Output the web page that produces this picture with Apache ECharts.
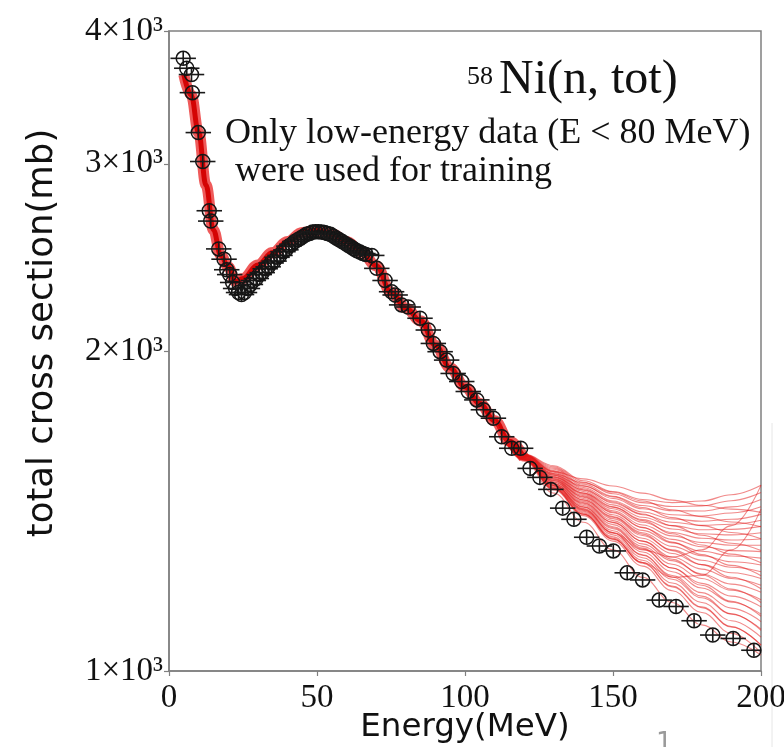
<!DOCTYPE html>
<html>
<head>
<meta charset="utf-8">
<script src="https://cdn.jsdelivr.net/npm/echarts@6/dist/echarts.min.js"></script>
<style>
html,body{margin:0;padding:0;background:#fff;}
#main{width:784px;height:747px;}
</style>
</head>
<body>
<div id="main"></div>
<script>
// ---- data ----
const xTicks = [0, 50, 100, 150, 200];
const yTicks = [1000, 2000, 3000, 4000];

const dataEnergy = [4.8, 6.0, 7.6, 7.9, 9.9, 11.4, 13.6, 14.1, 16.8, 18.6, 19.5,
  20.5, 21.5, 22.5, 23.5, 24.5, 25.5, 26.5, 27.5, 28.5, 29.5,
  30.5, 31.5, 32.5, 33.5, 34.5, 35.5, 36.5, 37.5, 38.5, 39.5,
  40.5, 41.5, 42.5, 43.5, 44.5, 45.5, 46.5, 47.5, 48.5, 49.5,
  50.5, 51.5, 52.5, 53.5, 54.5, 55.5, 56.5, 57.5, 58.5, 59.5,
  60.5, 61.5, 62.5, 63.5, 64.5, 65.5, 66.5, 68.5, 70.2, 73.0,
  75.2, 76.4, 78.6, 80.8, 84.8, 87.6, 89.3, 91.6, 93.8, 96.0,
  98.9, 101.1, 104.0, 106.2, 109.6, 112.4, 115.8, 118.8, 122.0, 125.3,
  129.0, 133.0, 136.8, 141.1, 145.4, 150.1, 154.8, 160.0, 165.6, 171.3,
  177.4, 183.7, 190.6, 197.6];
const dataSigma = [3770, 3690, 3640, 3500, 3210, 3015, 2710, 2650, 2495, 2440, 2385,
  2360, 2320, 2290, 2270, 2260, 2270, 2290, 2310, 2330, 2340,
  2360, 2370, 2390, 2400, 2420, 2430, 2450, 2460, 2480, 2490,
  2510, 2520, 2535, 2545, 2555, 2565, 2575, 2580, 2588, 2590,
  2590, 2588, 2585, 2580, 2575, 2565, 2555, 2545, 2535, 2525,
  2515, 2505, 2495, 2485, 2478, 2470, 2465, 2460, 2392, 2330,
  2274, 2258, 2210, 2200, 2147, 2093, 2033, 1997, 1961, 1905,
  1872, 1832, 1799, 1761, 1729, 1661, 1620, 1620, 1551, 1521,
  1482, 1423, 1389, 1336, 1311, 1297, 1237, 1218, 1166, 1150,
  1115, 1081, 1073, 1046];
const xErr = 4.3;      // MeV
const yErrFrac = 0.014;

// central prediction band (E < 120 MeV)
const bandEnergy = [5, 7.5, 10, 12.5, 15, 17.5, 20, 22.5, 25, 30, 35, 40, 45, 50, 55, 60, 65, 70, 75, 80, 85, 90, 95, 100, 105, 110, 115, 120];
const bandSigma  = [3640, 3480, 3210, 2865, 2600, 2460, 2400, 2325, 2340, 2410, 2475, 2535, 2585, 2598, 2578, 2535, 2480, 2405, 2272, 2195, 2135, 2025, 1928, 1850, 1785, 1720, 1645, 1585];

// individual model predictions fanning out at high energy
const fanEnergy = [110, 120, 130, 140, 150, 160, 170, 180, 190, 200];
const fanCurves = [
  [1720,1578,1480,1400,1325,1255,1190,1135,1085,1040],
  [1720,1579,1483,1404,1331,1263,1200,1147,1100,1058],
  [1720,1580,1486,1409,1337,1271,1210,1160,1115,1076],
  [1720,1581,1490,1413,1343,1278,1220,1172,1131,1095],
  [1720,1582,1493,1418,1349,1286,1230,1185,1146,1113],
  [1720,1583,1496,1422,1355,1294,1240,1197,1161,1131],
  [1720,1584,1499,1426,1361,1302,1250,1209,1176,1149],
  [1720,1585,1502,1431,1367,1310,1260,1222,1191,1167],
  [1720,1586,1506,1435,1373,1317,1270,1234,1207,1186],
  [1720,1587,1509,1440,1379,1325,1280,1247,1222,1204],
  [1720,1588,1512,1444,1385,1333,1290,1259,1237,1222],
  [1720,1589,1515,1448,1391,1341,1300,1271,1252,1240],
  [1720,1590,1518,1453,1397,1349,1310,1284,1267,1258],
  [1720,1591,1522,1457,1403,1356,1320,1296,1283,1277],
  [1720,1592,1525,1462,1409,1364,1330,1309,1298,1295],
  [1720,1593,1528,1466,1415,1372,1340,1321,1313,1313],
  [1720,1594,1531,1470,1421,1380,1350,1333,1328,1331],
  [1720,1595,1534,1475,1427,1388,1360,1346,1343,1349],
  [1720,1596,1538,1479,1433,1395,1370,1358,1359,1368],
  [1720,1596,1541,1484,1439,1403,1380,1371,1374,1386],
  [1720,1597,1544,1488,1445,1411,1390,1383,1389,1404],
  [1720,1597,1548,1494,1453,1421,1403,1399,1408,1427],
  [1720,1598,1552,1499,1460,1431,1415,1414,1427,1450],
  [1720,1599,1556,1505,1468,1440,1428,1430,1446,1472],
  [1720,1600,1560,1510,1475,1450,1440,1445,1465,1495],
  [1720,1579,1483,1405,1333,1265,1202,1149,1101,1057],
  [1720,1581,1488,1416,1348,1285,1226,1176,1132,1092],
  [1720,1583,1494,1427,1364,1305,1250,1204,1163,1126],
  [1720,1585,1500,1438,1380,1325,1274,1232,1194,1160],
  [1720,1587,1505,1449,1395,1345,1298,1259,1225,1195],
  [1720,1589,1511,1459,1411,1365,1322,1287,1257,1229],
  [1720,1591,1516,1470,1426,1385,1346,1314,1288,1264],
  [1720,1593,1522,1481,1442,1405,1370,1342,1319,1298],
  [1720,1595,1528,1492,1458,1425,1394,1370,1350,1332],
  [1720,1597,1533,1503,1473,1445,1418,1397,1381,1367],
  [1720,1599,1540,1516,1493,1470,1448,1432,1420,1410],
  [1720,1585,1495,1420,1350,1300,1280,1300,1370,1495],
  [1720,1583,1485,1405,1330,1265,1225,1230,1300,1420],
  [1720,1575,1470,1380,1300,1225,1160,1105,1065,1035]
];

// ---- chart ----
const chart = echarts.init(document.getElementById('main'), null, {renderer: 'canvas'});

const series = [];
const bandData = bandEnergy.map((e, i) => [e, bandSigma[i]]);
series.push({
  type: 'line', data: bandData, showSymbol: false, smooth: 0.4, smoothMonotone: 'x',
  lineStyle: {width: 11, color: 'rgba(232,20,20,0.7)'}, silent: true, z: 1
});
series.push({
  type: 'line', data: bandData, showSymbol: false, smooth: 0.4, smoothMonotone: 'x',
  lineStyle: {width: 5, color: 'rgba(210,0,0,0.95)'}, silent: true, z: 2
});
fanCurves.forEach(c => {
  series.push({
    type: 'line', data: fanEnergy.map((e, i) => [e, c[i]]), showSymbol: false,
    smooth: 0.4, smoothMonotone: 'x',
    lineStyle: {width: 1.1, color: 'rgba(228,22,22,0.5)'}, silent: true, z: 3
  });
});
series.push({
  type: 'custom',
  data: dataEnergy.map((e, i) => [e, dataSigma[i]]),
  encode: {x: 0, y: 1},
  z: 10,
  renderItem: function (params, api) {
    const x = api.value(0), y = api.value(1);
    const cs = params.coordSys;
    const c = api.coord([x, y]);
    const l = api.coord([x - xErr, y]);
    const r = api.coord([x + xErr, y]);
    const t = api.coord([x, y * (1 + yErrFrac)]);
    const b = api.coord([x, y * (1 - yErrFrac)]);
    const lx = Math.max(l[0], cs.x), rx = Math.min(r[0], cs.x + cs.width);
    return {
      type: 'group',
      children: [
        {type: 'line', shape: {x1: lx, y1: c[1], x2: rx, y2: c[1]}, style: {stroke: '#1a1a1a', lineWidth: 1.6}},
        {type: 'line', shape: {x1: c[0], y1: t[1], x2: c[0], y2: b[1]}, style: {stroke: '#1a1a1a', lineWidth: 1.6}},
        {type: 'circle', shape: {cx: c[0], cy: c[1], r: 7}, style: {fill: 'rgba(0,0,0,0)', stroke: '#151515', lineWidth: 1.5}}
      ]
    };
  }
});

const serif = '"Liberation Serif", "Times New Roman", serif';
chart.setOption({
  animation: false,
  backgroundColor: '#fff',
  grid: {left: 169, right: 23, top: 31, bottom: 76, show: true, borderColor: '#808080', borderWidth: 1.5,
    containLabel: false, outerBoundsMode: 'none'},
  xAxis: {
    type: 'value', min: 0, max: 200, interval: 50,
    name: 'Energy(MeV)', nameLocation: 'middle', nameGap: 40, nameMoveOverlap: false,
    nameTextStyle: {fontFamily: '"DejaVu Sans", sans-serif', fontSize: 32.5, color: '#111'},
    axisLine: {show: true, lineStyle: {color: '#808080', width: 1.5}},
    axisTick: {show: true, length: 5, lineStyle: {color: '#808080', width: 1.2}},
    axisLabel: {fontFamily: serif, fontSize: 33, color: '#111', margin: 11,
      customValues: xTicks},
    splitLine: {show: false}
  },
  yAxis: {
    type: 'log', logBase: 10, min: 1000, max: 4000,
    name: 'total cross section(mb)', nameLocation: 'middle', nameGap: 108, nameRotate: 90, nameMoveOverlap: false,
    nameTextStyle: {fontFamily: '"DejaVu Sans", sans-serif', fontSize: 35.5, color: '#111', padding: [0, 0, 0, 36]},
    axisLine: {show: true, lineStyle: {color: '#808080', width: 1.5}},
    axisTick: {show: true, length: 5, lineStyle: {color: '#808080', width: 1.2}, customValues: yTicks},
    axisLabel: {fontFamily: serif, fontSize: 33, color: '#111', margin: 6,
      customValues: yTicks,
      formatter: v => Math.round(v / 1000) + '×10³'},
    minorTick: {show: false},
    splitLine: {show: false}
  },
  graphic: [
    {type: 'text', left: 467, top: 64, style: {text: '58', font: '26px ' + serif, fill: '#111'}},
    {type: 'text', left: 499, top: 56, style: {text: 'Ni(n, tot)', font: '48px ' + serif, fill: '#111'}},
    {type: 'text', left: 225, top: 116, style: {text: 'Only low-energy data (E < 80 MeV)', font: '36px ' + serif, fill: '#111'}},
    {type: 'text', left: 235, top: 154, style: {text: 'were used for training', font: '36px ' + serif, fill: '#111'}},
    {type: 'text', left: 656, top: 731, style: {text: '1', font: '26px "DejaVu Sans", sans-serif', fill: '#9a9a9a'}},
    {type: 'line', shape: {x1: 772, y1: 423, x2: 772, y2: 747}, style: {stroke: '#e6e6e6', lineWidth: 1}}
  ],
  series: series
});
</script>
</body>
</html>
